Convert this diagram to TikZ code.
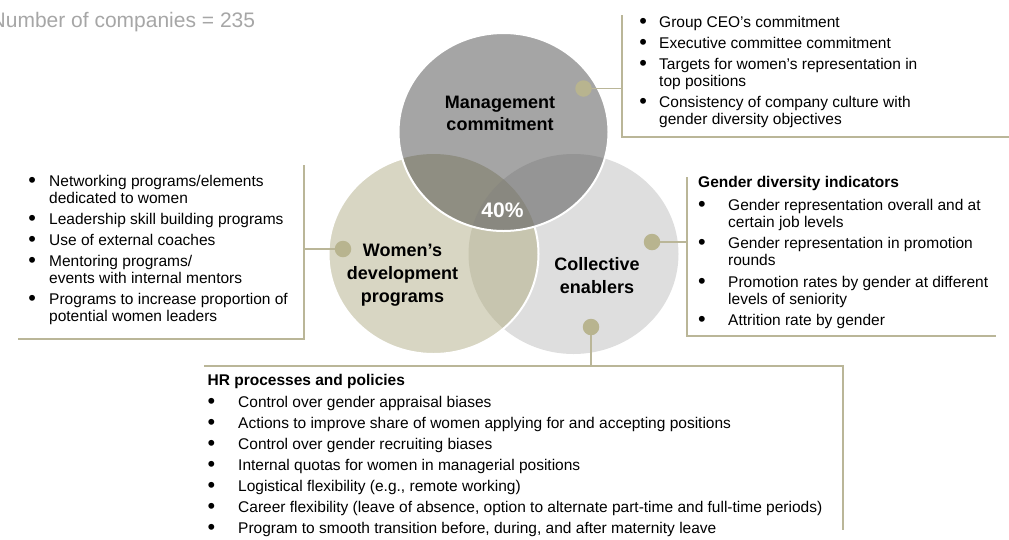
\documentclass[tikz,border=0pt]{standalone}
\usepackage{fontspec}
\setmainfont{Liberation Sans}
\usetikzlibrary{positioning}
\definecolor{mgmtgray}{HTML}{A5A5A5}
\definecolor{womenbeige}{HTML}{D8D6C3}
\definecolor{collgray}{HTML}{DEDEDE}
\definecolor{womencoll}{HTML}{C7C5AF}
\definecolor{mgmtwomen}{HTML}{8F8E82}
\definecolor{mgmtcoll}{HTML}{959595}
\definecolor{allthree}{HTML}{898880}
\definecolor{linkbeige}{HTML}{BAB698}
\definecolor{dotbeige}{HTML}{B8B48F}
\definecolor{notegray}{HTML}{A6A6A6}
\newcommand{\listfont}{\fontsize{15.5}{17}\selectfont}
\newcommand{\bul}{\raisebox{-1pt}{\scalebox{1.4}{\textbullet}}}

\begin{document}
\begin{tikzpicture}[x=1pt,y=-1pt]
    \tikzset{
        link/.style={draw=linkbeige, line width=1.5pt},
        dot/.style={circle, fill=dotbeige, inner sep=0pt, minimum size=16.5pt},
        listbox/.style={anchor=base west, inner sep=0pt, font=\listfont},
        vennlabel/.style={anchor=base, inner sep=0pt, font=\fontsize{18}{23}\selectfont\bfseries},}
    \useasboundingbox (0,0) rectangle (1009,539);
    \def\mgmtpath{(503.5,132) ellipse [x radius=105, y radius=99]}
    \def\womenpath{(433.5,254) ellipse [x radius=105, y radius=100]}
    \def\collpath{(573.5,254) ellipse [x radius=105, y radius=100]}
    % venn circles
    \fill [collgray] \collpath;
    \fill [womenbeige] \womenpath;
    \begin{scope}
        \clip \collpath;
        \fill [womencoll] \womenpath;
    \end{scope}
    \draw [white, line width=2pt] \womenpath;
    \fill [mgmtgray] \mgmtpath;
    \begin{scope}
        \clip \mgmtpath;
        \fill [mgmtcoll] \collpath;
        \fill [mgmtwomen] \womenpath;
        \clip \womenpath;
        \fill [allthree] \collpath;
    \end{scope}
    \draw [white, line width=2pt] \mgmtpath;
    % labels in the circles
    \node [vennlabel] (mgmtlabel) at (500,108) {\begin{tabular}[t]{@{}c@{}}Management\\[-1pt]commitment\end{tabular}};
    \node [vennlabel] (womenlabel) at (402.5,256) {\begin{tabular}[t]{@{}c@{}}Women's\\development\\programs\end{tabular}};
    \node [vennlabel] (colllabel) at (597,270) {\begin{tabular}[t]{@{}c@{}}Collective\\enablers\end{tabular}};
    \node [vennlabel, text=white, font=\fontsize{21}{24}\selectfont\bfseries] (share) at (502.5,217) {40\%};
    \node [anchor=base west, inner sep=0pt, text=notegray, font=\fontsize{21}{25}\selectfont] (note) at (-9.5,27) {Number of companies = 235};
    % dots
    \node [dot] (mgmtdot) at (583.5,88.5) {};
    \node [dot] (womendot) at (343,249) {};
    \node [dot] (colldot) at (652,242) {};
    \node [dot] (hrdot) at (591,327) {};
    % brackets
    \coordinate (mgmttop) at (622,15);
    \coordinate (mgmtcorner) at (622,137);
    \coordinate (mgmtend) at (1012,137);
    \coordinate (womentop) at (304,165);
    \coordinate (womencorner) at (304,339);
    \coordinate (womenend) at (18,339);
    \coordinate (colltop) at (687,177);
    \coordinate (collcorner) at (687,336);
    \coordinate (collend) at (996,336);
    \coordinate (hrstart) at (204,366);
    \coordinate (hrcorner) at (843,366);
    \coordinate (hrend) at (843,530);
    \draw [link] (mgmtdot) -- (mgmtdot -| mgmttop);
    \draw [link] (mgmttop) -- (mgmtcorner) -- (mgmtend);
    \draw [link] (womendot) -- (womendot -| womentop);
    \draw [link] (womentop) -- (womencorner) -- (womenend);
    \draw [link] (colldot) -- (colldot -| colltop);
    \draw [link] (colltop) -- (collcorner) -- (collend);
    \draw [link] (hrdot) -- (hrdot |- hrstart);
    \draw [link] (hrstart) -- (hrcorner) -- (hrend);
    % lists
    \node [listbox] (mgmtlist) at (639.2,27.5) {\begin{tabular}[t]{@{}l@{\hspace{12.2pt}}l@{}}
        \bul & Group CEO's commitment\\[4pt]
        \bul & Executive committee commitment\\[4pt]
        \bul & Targets for women's representation in\\
             & top positions\\[4pt]
        \bul & Consistency of company culture with\\
             & gender diversity objectives
        \end{tabular}};
    \node [listbox] (womenlist) at (28.2,186) {\begin{tabular}[t]{@{}l@{\hspace{13.2pt}}l@{}}
        \bul & Networking programs/elements\\
             & dedicated to women\\[4pt]
        \bul & Leadership skill building programs\\[4pt]
        \bul & Use of external coaches\\[4pt]
        \bul & Mentoring programs/\\
             & events with internal mentors\\[4pt]
        \bul & Programs to increase proportion of\\
             & potential women leaders
        \end{tabular}};
    \node [listbox] (colllist) at (698,187) {\begin{tabular}[t]{@{}l@{\hspace{22.4pt}}l@{}}
        \multicolumn{2}{@{}l@{}}{\bfseries Gender diversity indicators}\\[6pt]
        \bul & Gender representation overall and at\\
             & certain job levels\\[4.5pt]
        \bul & Gender representation in promotion\\
             & rounds\\[4.5pt]
        \bul & Promotion rates by gender at different\\
             & levels of seniority\\[4.5pt]
        \bul & Attrition rate by gender
        \end{tabular}};
    \node [listbox] (hrlist) at (207.5,385) {\begin{tabular}[t]{@{}l@{\hspace{22.9pt}}l@{}}
        \multicolumn{2}{@{}l@{}}{\bfseries HR processes and policies}\\[5pt]
        \bul & Control over gender appraisal biases\\[4pt]
        \bul & Actions to improve share of women applying for and accepting positions\\[4pt]
        \bul & Control over gender recruiting biases\\[4pt]
        \bul & Internal quotas for women in managerial positions\\[4pt]
        \bul & Logistical flexibility (e.g., remote working)\\[4pt]
        \bul & Career flexibility (leave of absence, option to alternate part-time and full-time periods)\\[4pt]
        \bul & Program to smooth transition before, during, and after maternity leave
        \end{tabular}};
\end{tikzpicture}
\end{document}
